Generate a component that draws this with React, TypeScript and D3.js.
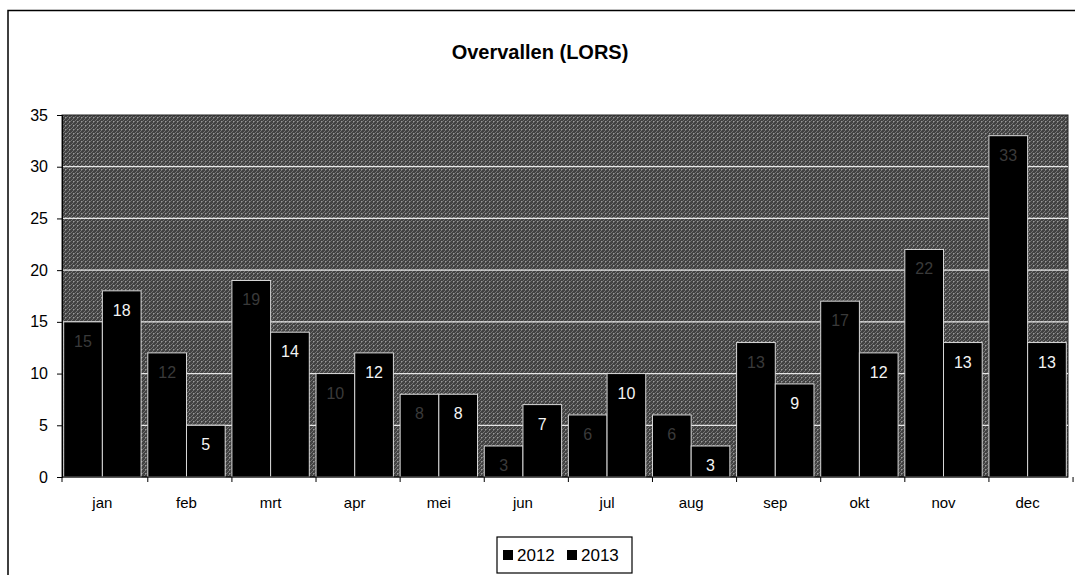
import React, { useEffect, useRef } from 'react';
import * as d3 from 'd3';

const months = ['jan', 'feb', 'mrt', 'apr', 'mei', 'jun', 'jul', 'aug', 'sep', 'okt', 'nov', 'dec'];
const series = ['2012', '2013'];
const values2012 = [15, 12, 19, 10, 8, 3, 6, 6, 13, 17, 22, 33];
const values2013 = [18, 5, 14, 12, 8, 7, 10, 3, 9, 12, 13, 13];
const yTicks = [0, 5, 10, 15, 20, 25, 30, 35];

const App = () => {
  const ref = useRef<SVGSVGElement>(null);
  const width = 1075;
  const height = 575;
  const margin = { top: 115, right: 7, bottom: 98, left: 62 };

  useEffect(() => {
    const svg = d3.select(ref.current);
    svg.selectAll('*').remove();
    const font = '"Liberation Sans", Arial, sans-serif';

    // frame of the chart area
    svg.append('path')
      .attr('d', `M8,${height} V10.5 H${width}`)
      .attr('fill', 'none')
      .attr('stroke', '#000')
      .attr('stroke-width', 1.5);

    svg.append('text')
      .attr('x', 540)
      .attr('y', 59)
      .attr('text-anchor', 'middle')
      .attr('font-family', font)
      .attr('font-weight', 'bold')
      .attr('font-size', 20)
      .text('Overvallen (LORS)');

    const x = d3.scaleBand()
      .domain(months)
      .range([margin.left, width - margin.right])
      .paddingInner(0.08)
      .paddingOuter(0.02);

    const xs = d3.scaleBand()
      .domain(series)
      .range([0, x.bandwidth()]);

    const y = d3.scaleLinear()
      .domain([0, 35])
      .range([height - margin.bottom, margin.top]);

    // plot background: grey dither like the scanned fill
    const defs = svg.append('defs');
    const pat = defs.append('pattern')
      .attr('id', 'bgpat')
      .attr('width', 4)
      .attr('height', 4)
      .attr('patternUnits', 'userSpaceOnUse');
    pat.append('rect').attr('width', 4).attr('height', 4).attr('fill', '#424242');
    pat.append('path')
      .attr('d', 'M0,4 L4,0')
      .attr('stroke', '#8a8a8a')
      .attr('stroke-width', 0.7);
    pat.append('rect').attr('x', 1).attr('y', 1).attr('width', 1).attr('height', 1).attr('fill', '#9a9a9a');

    svg.append('rect')
      .attr('x', margin.left)
      .attr('y', margin.top)
      .attr('width', width - margin.left - margin.right)
      .attr('height', height - margin.top - margin.bottom)
      .attr('fill', 'url(#bgpat)')
      .attr('stroke', '#222');

    // gridlines
    svg.append('g')
      .selectAll('line')
      .data(yTicks.filter(d => d > 0 && d < 35))
      .join('line')
      .attr('x1', margin.left)
      .attr('x2', width - margin.right)
      .attr('y1', d => y(d))
      .attr('y2', d => y(d))
      .attr('stroke', '#e6e6e6')
      .attr('stroke-width', 1.3);

    const rows = months.map((m, i) => ({ month: m, vals: [values2012[i], values2013[i]] }));

    const groups = svg.append('g')
      .selectAll('g')
      .data(rows)
      .join('g')
      .attr('transform', d => `translate(${x(d.month)},0)`);

    groups.selectAll('rect')
      .data(d => d.vals.map((v, j) => ({ key: series[j], v })))
      .join('rect')
      .attr('x', d => xs(d.key)!)
      .attr('y', d => y(d.v))
      .attr('width', xs.bandwidth())
      .attr('height', d => y(0) - y(d.v))
      .attr('fill', '#000')
      .attr('stroke', '#d8d8d8')
      .attr('stroke-width', 1);

    groups.selectAll('text')
      .data(d => d.vals.map((v, j) => ({ key: series[j], v })))
      .join('text')
      .attr('x', d => xs(d.key)! + xs.bandwidth() / 2)
      .attr('y', d => y(d.v) + 25)
      .attr('text-anchor', 'middle')
      .attr('font-family', font)
      .attr('font-size', 16)
      .attr('fill', d => (d.key === '2013' ? '#f4f4f4' : '#3a3a3a'))
      .text(d => d.v);

    // y axis
    const yAxis = svg.append('g')
      .attr('transform', `translate(${margin.left},0)`)
      .call(d3.axisLeft(y).tickValues(yTicks).tickSize(5).tickPadding(9));
    yAxis.select('.domain').attr('stroke', '#000');
    yAxis.selectAll('text')
      .attr('font-family', font)
      .attr('font-size', 16)
      .attr('fill', '#000');

    // x axis line and category boundary ticks
    svg.append('line')
      .attr('x1', margin.left)
      .attr('x2', width - margin.right)
      .attr('y1', y(0))
      .attr('y2', y(0))
      .attr('stroke', '#000');

    const bounds = d3.range(months.length + 1).map(i => margin.left + i * x.step() + (i === 0 ? 0 : x.step() * 0.02));
    svg.append('g')
      .selectAll('line')
      .data(bounds)
      .join('line')
      .attr('x1', d => d)
      .attr('x2', d => d)
      .attr('y1', y(0))
      .attr('y2', y(0) + 5)
      .attr('stroke', '#000');

    svg.append('g')
      .selectAll('text')
      .data(months)
      .join('text')
      .attr('x', d => x(d)! + x.bandwidth() / 2)
      .attr('y', y(0) + 31)
      .attr('text-anchor', 'middle')
      .attr('font-family', font)
      .attr('font-size', 15)
      .text(d => d);

    // legend
    const lg = svg.append('g').attr('transform', 'translate(497,537)');
    lg.append('rect')
      .attr('width', 135)
      .attr('height', 36)
      .attr('fill', '#fff')
      .attr('stroke', '#000')
      .attr('stroke-width', 1.2);
    const items = lg.selectAll('g')
      .data(series)
      .join('g')
      .attr('transform', (d, i) => `translate(${6 + i * 64},0)`);
    items.append('rect')
      .attr('x', 0)
      .attr('y', 13)
      .attr('width', 10)
      .attr('height', 10)
      .attr('fill', '#000');
    items.append('text')
      .attr('x', 14)
      .attr('y', 24)
      .attr('font-family', font)
      .attr('font-size', 17)
      .text(d => d);
  }, []);

  return (
    <svg
      ref={ref}
      width={width}
      height={height}
      style={{ position: 'absolute', left: 0, top: 0, background: '#fff' }}
    />
  );
};

export default App;
